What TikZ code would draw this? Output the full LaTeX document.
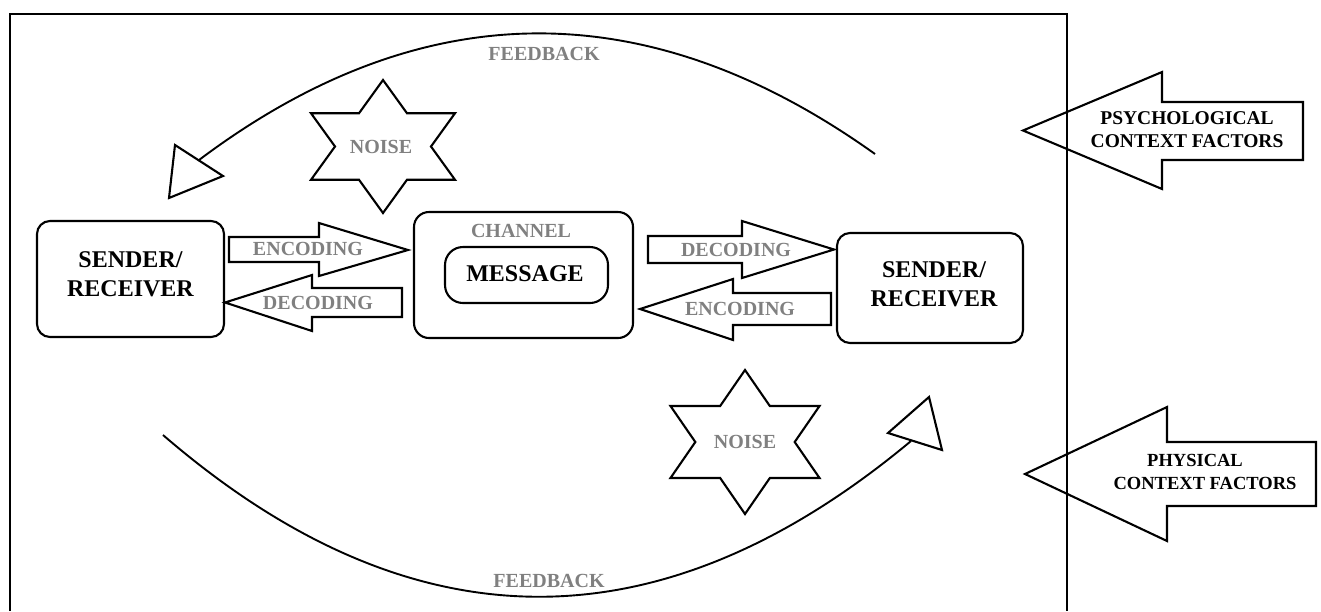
\documentclass[tikz,border=0pt]{standalone}
\usepackage{fontspec}
\setmainfont{Liberation Serif}
\definecolor{labelgray}{RGB}{128,128,128}
\tikzset{
  outline/.style={draw=black, line width=2.1pt, line join=miter},
  box/.style={outline, rounded corners=13pt, inner sep=0pt},
  bigtxt/.style={font=\bfseries\fontsize{24}{29}\selectfont, align=center, inner sep=0pt},
  graytxt/.style={font=\bfseries\fontsize{20}{24}\selectfont, text=labelgray, inner sep=0pt},
  ctxtxt/.style={font=\bfseries\fontsize{19.5}{23}\selectfont, align=center, inner sep=0pt},
  feedback/.style={draw=black, line width=1.9pt},
}
% six-pointed star centred at #1, outer radius #2, horizontal stretch #3
\newcommand{\hexstar}[3]{%
  \begin{scope}[shift={#1}, xscale=#3]
    \draw[outline] (90:#2)
      \foreach \i in {1,...,11}{ -- ({90+30*\i}:{ifthenelse(mod(\i,2)==0,#2,#2/sqrt(3))}) } -- cycle;
  \end{scope}}
\begin{document}
\begin{tikzpicture}[x=1pt, y=-1pt]
\useasboundingbox (0,0) rectangle (1321,611);

% outer frame (open at the bottom)
\draw[outline] (10,611) -- (10,14) -- (1067,14) -- (1067,611);

% participants and channel
\node[box, minimum width=187pt, minimum height=116pt] (left) at (130.5,279) {};
\node[bigtxt] (leftlabel) at (130.5,274.5) {SENDER/\\RECEIVER};
\node[box, minimum width=186pt, minimum height=110pt] (right) at (930,288) {};
\node[bigtxt] (rightlabel) at (934,284.5) {SENDER/\\RECEIVER};
\node[box, rounded corners=15pt, minimum width=219pt, minimum height=126pt] (channel) at (523.5,275) {};
\node[graytxt] (channellabel) at (521,231) {CHANNEL};
\node[box, rounded corners=18pt, minimum width=163pt, minimum height=56pt] (message) at (526.5,275) {};
\node[bigtxt] (messagelabel) at (525,274) {MESSAGE};

% block arrows between participants and channel
\draw[outline] (229,237) -- (319,237) -- (319,223) -- (408,250) -- (319,276) -- (319,262) -- (229,262) -- cycle;
\node[graytxt] (enc1) at (308,249) {ENCODING};
\draw[outline] (402,288) -- (312,288) -- (312,275) -- (225,302.5) -- (312,331) -- (312,317) -- (402,317) -- cycle;
\node[graytxt] (dec1) at (318,303) {DECODING};
\draw[outline] (648,236) -- (742,236) -- (742,221) -- (834,249.5) -- (742,278) -- (742,263) -- (648,263) -- cycle;
\node[graytxt] (dec2) at (736,250) {DECODING};
\draw[outline] (831,293) -- (733,293) -- (733,279) -- (640,309) -- (733,340) -- (733,325) -- (831,325) -- cycle;
\node[graytxt] (enc2) at (740,309) {ENCODING};

% noise
\hexstar{(383,146.5)}{66.5}{1.25}
\node[graytxt] (noise1) at (381,147) {NOISE};
\hexstar{(745,442)}{72}{1.195}
\node[graytxt] (noise2) at (745,442) {NOISE};

% feedback loops
\coordinate (fbtopstart) at (875,154);
\coordinate (fbtopend) at (199,160);
\draw[feedback] (fbtopstart) .. controls (647.7,-8.3) and (421.7,-7.3) .. (fbtopend);
\draw[outline] (175,145) -- (223,176) -- (169,198) -- cycle;
\node[graytxt] (fbtop) at (544,54) {FEEDBACK};

\coordinate (fbbotstart) at (163,435);
\coordinate (fbbotend) at (911,441);
\draw[feedback] (fbbotstart) .. controls (410.3,648.3) and (659,651) .. (fbbotend);
\draw[outline] (888,433) -- (929,397) -- (942,450) -- cycle;
\node[graytxt] (fbbot) at (549,581) {FEEDBACK};

% context factors
\draw[outline] (1303,102) -- (1162,102) -- (1162,72) -- (1023,130.5) -- (1162,189) -- (1162,160) -- (1303,160) -- cycle;
\node[ctxtxt] (psych) at (1187,130) {PSYCHOLOGICAL\\CONTEXT FACTORS};
\draw[outline] (1316,442) -- (1167,442) -- (1167,407) -- (1025,474) -- (1167,541) -- (1167,506) -- (1316,506) -- cycle;
\node[ctxtxt, font=\bfseries\fontsize{18.5}{23}\selectfont] (phys) at (1205,471.5) {PHYSICAL\hspace*{20pt}\\CONTEXT FACTORS};
\end{tikzpicture}
\end{document}
